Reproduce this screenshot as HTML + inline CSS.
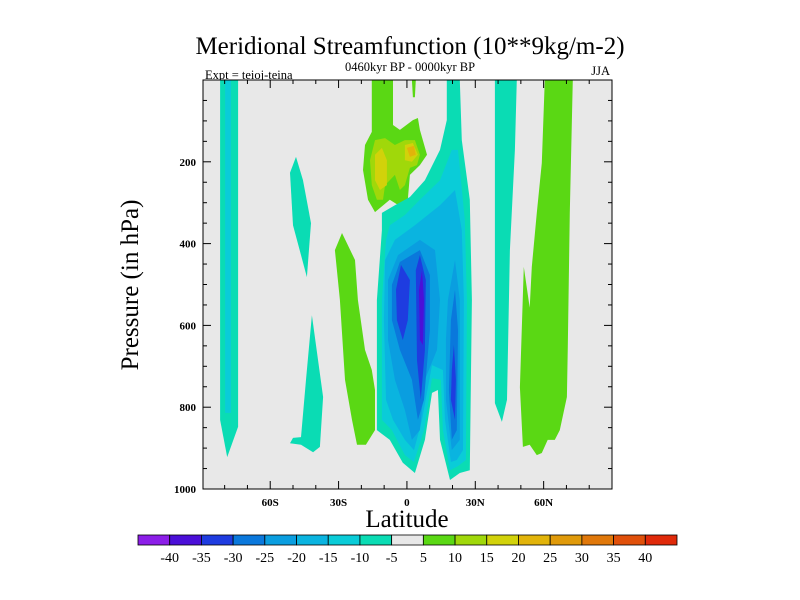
<!DOCTYPE html>
<html><head><meta charset="utf-8"><style>
html,body{margin:0;padding:0;background:#fff;}
svg{display:block;font-family:"Liberation Serif",serif;}
</style></head><body>
<svg id="chart" width="800" height="600" viewBox="0 0 800 600">
<text x="410" y="54" text-anchor="middle" font-size="25">Meridional Streamfunction (10**9kg/m-2)</text>
<text x="410" y="71" text-anchor="middle" font-size="12.5">0460kyr BP - 0000kyr BP</text>
<text x="205" y="79" font-size="12.5">Expt = teioj-teina</text>
<text x="610" y="75" text-anchor="end" font-size="12.5">JJA</text>
<rect x="203" y="80" width="409" height="409" fill="#e8e8e8"/>
<g id="contours"></g>
<g id="axes"></g>
<rect x="203" y="80" width="409" height="409" fill="none" stroke="#000" stroke-width="1"/>
<text x="407" y="527" text-anchor="middle" font-size="25">Latitude</text>
<text transform="translate(138,285) rotate(-90)" text-anchor="middle" font-size="25">Pressure (in hPa)</text>
<g id="colorbar"></g>
</svg>
<script>
const binEdges = [-40,-35,-30,-25,-20,-15,-10,-5,5,10,15,20,25,30,35,40];
const binColors = ['#8c1ee8','#4b0fd8','#1e3ce0','#0a78dc','#0a9ee0','#0ab4e0','#0accd8','#0adcb4','#e8e8e8','#5ad814','#a0d80a','#d2d20a','#e2b40a','#e09a0a','#e0780a','#e0500a','#e02a0a'];
const xTickLats = [-60,-30,0,30,60];
const xTickLabels = ['60S','30S','0','30N','60N'];
const yTickVals = [200,400,600,800,1000];
const shapeValues = [-7.5,-12.5,-7.5,-7.5,7.5,7.5,7.5,12.5,17.5,17.5,22.5,-7.5,-12.5,-17.5,-22.5,-22.5,-27.5,-27.5,-32.5,-32.5,-32.5,-37.5,-7.5,7.5];
const shapeNames = ['band-80s-outer','band-80s-inner','band-50s-upper','band-45s-lower','band-20s-positive','upper-positive-cell','upper-positive-filament','upper-positive-10','upper-positive-15-left','upper-positive-15-right','upper-positive-20','hadley-cell-5','hadley-cell-10','hadley-cell-15','hadley-cell-20-left','hadley-cell-20-right','hadley-cell-25-left','hadley-cell-25-right','hadley-cell-30-left','hadley-cell-30-center','hadley-cell-30-right','hadley-cell-35-core','band-40n-negative','band-60n-positive'];
const shapePoints = [
[[-82,0],[-74.1,0],[-74.1,848],[-78.9,922],[-82,831]],
[[-79.8,0],[-77.2,0],[-77.2,814],[-79.8,814]],
[[-48.7,188],[-45.6,245],[-42.1,350],[-43.9,482],[-50,355],[-51.3,227]],
[[-41.7,575],[-36.8,775],[-38.2,897],[-41.2,910],[-46.5,892],[-51.3,888],[-50,875],[-46.5,873],[-44.3,733]],
[[-28.5,374],[-22.8,440],[-21.5,538],[-18.4,660],[-15.4,709],[-14,758],[-14,856],[-18,892],[-21.9,892],[-24.1,831],[-27.2,733],[-29.4,538],[-31.6,416]],
[[-15.4,0],[-6.1,0],[-6.1,110],[-3.1,122],[2.6,98],[4.8,93],[5.7,122],[8.8,183],[5.7,208],[1.3,232],[0.4,293],[-1.8,313],[-7.5,293],[-14,323],[-17.1,293],[-19.3,220],[-18.4,159],[-15.4,127]],
[[2.2,0],[3.9,0],[3.5,42],[2.6,42]],
[[-14,147],[-9.6,142],[-5.3,159],[-0.9,147],[3.5,147],[5.7,183],[4.4,208],[1.3,215],[-0.9,257],[-3.1,269],[-5.3,232],[-9.6,257],[-10.5,293],[-13.2,293],[-15.4,257],[-16.2,196]],
[[-14,183],[-11,166],[-8.8,196],[-8.8,257],[-11.8,269],[-14,245]],
[[-0.9,159],[2.6,154],[4.8,183],[2.2,200],[-0.9,196]],
[[0,166],[3.1,161],[3.9,183],[1.3,188]],
[[17.5,0],[23.2,0],[24.1,147],[27.6,293],[28.5,538],[27.6,954],[23.2,961],[18.9,978],[14.5,880],[13.6,758],[11,765],[7.9,880],[3.5,961],[-1.8,936],[-7.5,880],[-13.2,856],[-13.2,538],[-11,367],[-11,325],[-5.3,306],[1.3,286],[7.9,245],[14.5,171],[17.5,98]],
[[19.7,171],[22.4,171],[25.4,342],[26.3,538],[25.9,929],[22.4,944],[18.9,954],[15.8,856],[14.9,733],[11,729],[7.5,856],[3.1,934],[-0.9,917],[-6.6,856],[-11,831],[-11,538],[-9.2,391],[-7.5,355],[-0.9,330],[5.7,293],[14.5,245]],
[[-9.6,440],[-5.3,391],[3.5,355],[14.5,306],[21.1,269],[24.1,367],[25,538],[24.6,905],[21.9,929],[19.3,934],[16.7,831],[15.8,709],[11,697],[6.6,831],[3.1,905],[-0.9,880],[-6.1,831],[-9.2,782],[-10.1,587]],
[[-8.3,489],[-3.9,428],[5.7,391],[12.3,416],[14.5,538],[13.2,660],[7.9,733],[5.7,856],[2.2,880],[-0.9,807],[-5.3,733],[-8.3,636]],
[[18,538],[21.1,440],[23.2,538],[23.2,880],[19.7,905],[17.1,782],[17.1,636]],
[[-6.6,501],[-3.1,445],[5.7,416],[10.1,477],[10.1,611],[7.5,782],[4.8,831],[2.2,733],[-3.1,660],[-6.6,587]],
[[19.3,587],[21.1,513],[22.4,611],[21.9,856],[19.7,880],[18.4,758]],
[[-4.8,513],[-2.6,452],[1.3,489],[0.4,587],[-1.8,636],[-4.4,587]],
[[3.9,465],[5.7,428],[8.3,489],[7.9,660],[6.1,782],[4.4,685]],
[[19.7,709],[20.6,648],[21.5,733],[21.1,831],[19.3,782]],
[[5.3,513],[6.6,465],[7.5,538],[7,648],[5.7,636]],
[[38.6,0],[48.2,0],[47.4,171],[45.2,416],[43.9,782],[41.7,836],[38.6,790],[38.6,293]],
[[60.5,0],[72.8,0],[71.5,325],[70.6,653],[70.2,775],[67.1,856],[64.9,880],[61.8,880],[59.2,912],[57,917],[53.9,892],[50.9,897],[49.6,751],[51.3,457],[53.9,557],[54.8,457],[57,325],[59.2,203]]
];
const NS='http://www.w3.org/2000/svg';
const X0=203,X1=612,Y0=80,Y1=489;
function xScale(lat){return X0+(lat+89.5)/179.5*(X1-X0);}
function yScale(p){return Y0+p/1000*(Y1-Y0);}
function colorFor(v){let i=0;while(i<binEdges.length&&v>=binEdges[i])i++;return binColors[i];}
const cg=document.getElementById('contours');
shapePoints.forEach((pts,k)=>{
  const poly=document.createElementNS(NS,'polygon');
  poly.setAttribute('points',pts.map(q=>xScale(q[0]).toFixed(1)+','+yScale(q[1]).toFixed(1)).join(' '));
  poly.setAttribute('fill',colorFor(shapeValues[k]));
  
  
  cg.appendChild(poly);
});
const ag=document.getElementById('axes');
function line(x1,y1,x2,y2,name){
  const l=document.createElementNS(NS,'line');
  l.setAttribute('x1',x1);l.setAttribute('y1',y1);l.setAttribute('x2',x2);l.setAttribute('y2',y2);
  l.setAttribute('stroke','#000');l.setAttribute('stroke-width','1');
  
  
  ag.appendChild(l);
}
function text(x,y,s,anchor,size,name,parent){
  const t=document.createElementNS(NS,'text');
  t.setAttribute('x',x);t.setAttribute('y',y);t.setAttribute('text-anchor',anchor);
  t.setAttribute('font-size',size);t.setAttribute('font-weight','bold');
  t.textContent=s;
  
  
  (parent||ag).appendChild(t);
}
for(let lat=-80;lat<=80;lat+=10){
  const x=xScale(lat);const major=(lat%30===0);const len=major?8:4;
  line(x,Y1,x,Y1-len,'x-tick');line(x,Y0,x,Y0+len,'x-tick-top');
}
xTickLats.forEach((lat,i)=>text(xScale(lat),506,xTickLabels[i],'middle',11,'x-tick-label'));
for(let p=50;p<1000;p+=50){
  const y=yScale(p);const major=(p%200===0);const len=major?8:4;
  line(X0,y,X0+len,y,'y-tick');line(X1,y,X1-len,y,'y-tick-right');
}
yTickVals.forEach(v=>text(196,yScale(v)+4,String(v),'end',11,'y-tick-label'));
const cb=document.getElementById('colorbar');
const CB0=138,CB1=677,CBY=535,CBH=10;const bw=(CB1-CB0)/binColors.length;
binColors.forEach((c,i)=>{
  const r=document.createElementNS(NS,'rect');
  r.setAttribute('x',CB0+i*bw);r.setAttribute('y',CBY);r.setAttribute('width',bw);r.setAttribute('height',CBH);
  r.setAttribute('fill',c);r.setAttribute('stroke','#000');r.setAttribute('stroke-width','0.8');
  
  
  cb.appendChild(r);
});
binEdges.forEach((v,i)=>{
  const t=document.createElementNS(NS,'text');
  t.setAttribute('x',CB0+(i+1)*bw);t.setAttribute('y',562);t.setAttribute('text-anchor','middle');
  t.setAttribute('font-size','14');t.textContent=String(v);
  
  
  cb.appendChild(t);
});
</script>
</body></html>
